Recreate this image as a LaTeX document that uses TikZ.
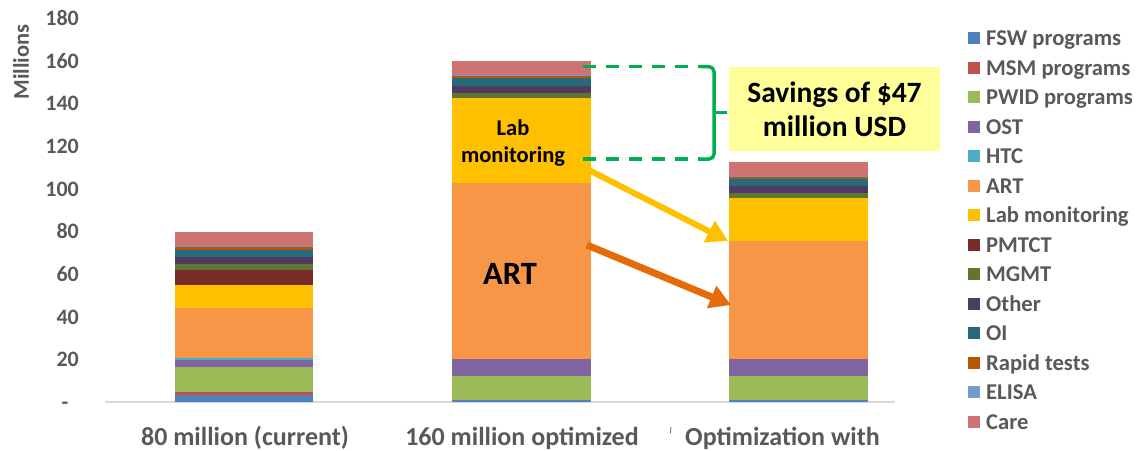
\documentclass[tikz,border=0pt]{standalone}
\usepackage{fontspec}
\setmainfont{Carlito}
\usetikzlibrary{arrows.meta}
\definecolor{txtgray}{HTML}{595959}
\definecolor{cFSW}{HTML}{4F81BD}
\definecolor{cMSM}{HTML}{C0504D}
\definecolor{cPWID}{HTML}{9BBB59}
\definecolor{cOST}{HTML}{8064A2}
\definecolor{cHTC}{HTML}{4BACC6}
\definecolor{cART}{HTML}{F79646}
\definecolor{cLab}{HTML}{FFC000}
\definecolor{cPMTCT}{HTML}{772C2A}
\definecolor{cMGMT}{HTML}{5F7530}
\definecolor{cOther}{HTML}{4D3B62}
\definecolor{cOI}{HTML}{276A7C}
\definecolor{cRapid}{HTML}{B65708}
\definecolor{cELISA}{HTML}{729ACA}
\definecolor{cCare}{HTML}{CD7371}
\definecolor{gbrace}{HTML}{00B050}
\definecolor{arrowyel}{HTML}{FFC000}
\definecolor{arroworg}{HTML}{E46C0A}
\definecolor{savebox}{HTML}{FFFF99}
\definecolor{axisline}{HTML}{D9D9D9}
\begin{document}
\begin{tikzpicture}[x=1pt,y=-1pt,
  ticklab/.style={font=\fontsize{22}{26}\selectfont\bfseries, text=txtgray, inner sep=0pt, anchor=base east},
  catlab/.style={font=\fontsize{26}{30}\selectfont\bfseries, text=txtgray, inner sep=0pt, anchor=base},
  leglab/.style={font=\fontsize{22.6}{26}\selectfont\bfseries, text=txtgray, inner sep=0pt, anchor=base west},
  barlab/.style={font=\fontsize{22.5}{27}\selectfont\bfseries, text=black, inner sep=0pt, align=center},
  bigarrow/.style={line width=6pt, -{Triangle[length=21pt,width=23pt]}},
  bracestyle/.style={draw=gbrace, line width=3.5pt}
]
\useasboundingbox (0,0) rectangle (1147,450);

% axis baseline
\draw[axisline, line width=1.2pt] (105,402) -- (895,402);

% y tick labels
\foreach \v [count=\i from 1] in {20,40,60,80,100,120,140,160,180}
  \node[ticklab] (t\v) at (79,{402-\i*42.67+7.5}) {\v};
\node[ticklab, anchor=base] (t0) at (65,409.5) {-};
\node[font=\fontsize{22.5}{24}\selectfont\bfseries, text=txtgray, rotate=90, inner sep=0pt] (ylab) at (21,62) {Millions};

% left bar
\foreach \c/\a/\b in {cFSW/402/394.7, cMSM/394.7/392, cPWID/392/366.7, cOST/366.7/360, cHTC/360/357.7,
  cART/357.7/308.3, cLab/308.3/284.7, cPMTCT/284.7/269.7, cMGMT/269.7/264, cOther/264/257,
  cOI/257/250, cRapid/250/247.3, cELISA/247.3/246, cCare/246/232.3}
  \fill[\c] (175,\a) rectangle (313,\b);

% middle bar
\foreach \c/\a/\b in {cFSW/402/400, cPWID/400/376, cOST/376/358.7, cART/358.7/182.7,
  cLab/182.7/97.7, cMGMT/97.7/92.7, cOther/92.7/85.7, cOI/85.7/77.7, cRapid/77.7/75.5,
  cELISA/75.5/75, cCare/75/61}
  \fill[\c] (452,\a) rectangle (591,\b);

% right bar
\foreach \c/\a/\b in {cFSW/402/400, cPWID/400/376, cOST/376/358.7, cART/358.7/240.7,
  cLab/240.7/197.7, cMGMT/197.7/192.7, cOther/192.7/186, cOI/186/179, cRapid/179/176.3,
  cELISA/176.3/175.7, cCare/175.7/161.7}
  \fill[\c] (729,\a) rectangle (868,\b);

% category labels
\node[catlab] (c1) at (245,445) {80 million (current)};
\node[catlab] (c2) at (522,445) {160 million optimized};
\node[catlab, anchor=base west] (c3) at (685,445) {Optimization with};
\draw[txtgray, line width=0.8pt] (671,427) -- (670.5,433);

% labels inside middle bar
\node[barlab] (lab) at (513,143) {Lab\\monitoring};
\node[font=\fontsize{32.5}{36}\selectfont\bfseries, text=black, inner sep=0pt] (art) at (510,274) {ART};

% arrows
\coordinate (ys) at (581,166);
\coordinate (ye) at (728,241);
\coordinate (os) at (587,245);
\coordinate (oe) at (731,305);
\draw[bigarrow, draw=arrowyel, fill=arrowyel] (ys) -- (ye);
\draw[bigarrow, draw=arroworg, fill=arroworg, line width=7pt] (os) -- (oe);

% green dashed lines and brace
\coordinate (dt0) at (583,66.7);
\coordinate (dt1) at (700,66.7);
\coordinate (db0) at (583,159);
\coordinate (db1) at (700,159);
\coordinate (tip) at (727,112.7);
\draw[bracestyle, dash pattern=on 13pt off 10pt] (dt0) -- (dt1);
\draw[bracestyle, dash pattern=on 13pt off 10pt] (db0) -- (db1);
\draw[bracestyle, rounded corners=5pt] (dt1) -| (714,112.7) |- (db1);
\draw[bracestyle] (714,112.7) -- (tip);

% savings box
\node[fill=savebox, minimum width=211pt, minimum height=84pt, inner sep=0pt,
  font=\fontsize{29.5}{34}\selectfont\bfseries, align=center, text=black] (save) at (834.5,109.2)
  {Savings of \$47\\million USD};

% legend
\foreach \c/\t [count=\i from 0] in {cFSW/FSW programs, cMSM/MSM programs, cPWID/PWID programs,
  cOST/OST, cHTC/HTC, cART/ART, cLab/Lab monitoring, cPMTCT/PMTCT, cMGMT/MGMT, cOther/Other,
  cOI/OI, cRapid/Rapid tests, cELISA/ELISA, cCare/Care} {
  \fill[\c] (968,{38.3+\i*29.5-6}) rectangle (980,{38.3+\i*29.5+6});
  \node[leglab] (leg\i) at (986,{38.3+\i*29.5+7.3}) {\t};
}
\end{tikzpicture}
\end{document}
